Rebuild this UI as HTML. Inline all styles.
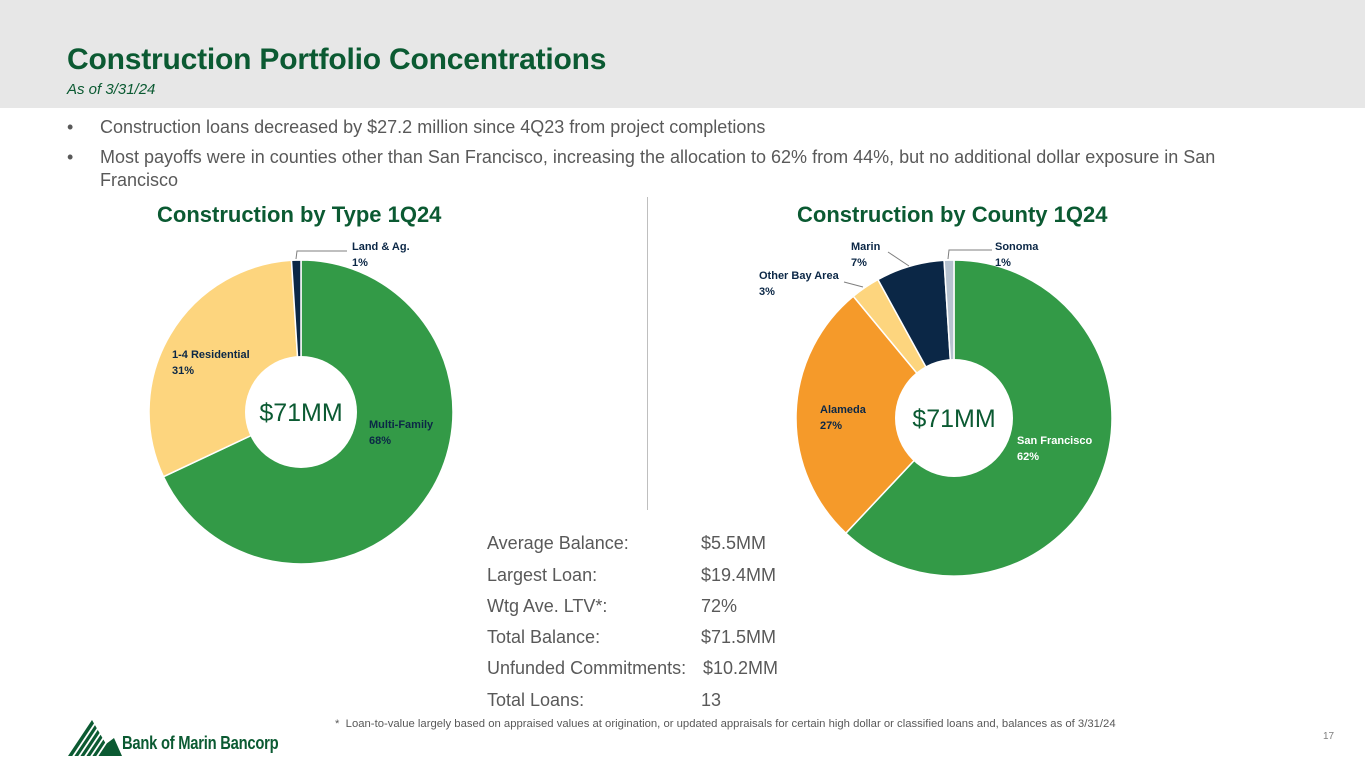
<!DOCTYPE html>
<html><head><meta charset="utf-8"><style>
body{margin:0;width:1365px;height:768px;position:relative;background:#fff;font-family:"Liberation Sans",sans-serif;overflow:hidden}
.hdr{position:absolute;left:0;top:0;width:1365px;height:108px;background:#e7e7e7}
.t{position:absolute;left:67px;top:43px;font-size:30px;font-weight:bold;color:#0b5a32;letter-spacing:-0.2px}
.st{position:absolute;left:67px;top:81px;font-size:15px;font-style:italic;color:#0b5a32}
.b{position:absolute;font-size:18px;color:#595959}
.ct{position:absolute;font-size:22px;font-weight:bold;color:#0b5a32}
.s{position:absolute;font-size:18px;color:#595959}
</style></head><body>
<div class="hdr"></div>
<div class="t">Construction Portfolio Concentrations</div>
<div class="st">As of 3/31/24</div>
<div class="b" style="left:67px;top:117px">•<span style="position:absolute;left:33px;white-space:nowrap">Construction loans decreased by $27.2 million since 4Q23 from project completions</span></div>
<div class="b" style="left:67px;top:146px;width:1200px;line-height:23px">•<span style="position:absolute;left:33px;white-space:nowrap">Most payoffs were in counties other than San Francisco, increasing the allocation to 62% from 44%, but no additional dollar exposure in San</span><br><span style="padding-left:33px">Francisco</span></div>
<div class="ct" style="left:157px;top:202px">Construction by Type 1Q24</div>
<div class="ct" style="left:797px;top:202px">Construction by County 1Q24</div>
<div style="position:absolute;left:647px;top:197px;width:1px;height:313px;background:#bfbfbf"></div>
<svg id="svg" width="1365" height="768" style="position:absolute;left:0;top:0"></svg>
<div class="s" style="left:487px;top:533px">Average Balance:</div><div class="s" style="left:701px;top:533px">$5.5MM</div>
<div class="s" style="left:487px;top:565px">Largest Loan:</div><div class="s" style="left:701px;top:565px">$19.4MM</div>
<div class="s" style="left:487px;top:596px">Wtg Ave. LTV*:</div><div class="s" style="left:701px;top:596px">72%</div>
<div class="s" style="left:487px;top:627px">Total Balance:</div><div class="s" style="left:701px;top:627px">$71.5MM</div>
<div class="s" style="left:487px;top:658px">Unfunded Commitments:</div><div class="s" style="left:703px;top:658px">$10.2MM</div>
<div class="s" style="left:487px;top:690px">Total Loans:</div><div class="s" style="left:701px;top:690px">13</div>
<div style="position:absolute;left:335px;top:718px;font-size:11.3px;color:#595959;white-space:nowrap">*&nbsp;&nbsp;Loan-to-value largely based on appraised values at origination, or updated appraisals for certain high dollar or classified loans and, balances as of 3/31/24</div>
<div style="position:absolute;left:1323px;top:731px;font-size:10px;color:#7f7f7f">17</div>
<svg style="position:absolute;left:66px;top:718px" width="56" height="40">
<polygon points="2,38 26,2 40,26 48,20 56,38" fill="#0b5a32"/>
<g stroke="#fff" stroke-width="1.8"><line x1="6" y1="40" x2="30" y2="4"/><line x1="12" y1="40" x2="34" y2="7"/><line x1="18" y1="40" x2="38" y2="10"/><line x1="24" y1="40" x2="42" y2="13"/><line x1="30" y1="40" x2="46" y2="16"/></g></svg>
<div style="position:absolute;left:122px;top:733px;font-size:18px;font-weight:bold;color:#0b5a32;transform:scaleX(0.82);transform-origin:left;letter-spacing:-0.3px;white-space:nowrap">Bank of Marin Bancorp</div>
<script>
const typeCats=["Multi-Family","1-4 Residential","Land & Ag."];
const typeVals=[68,31,1];
const typeColors=["#339a47","#fdd57e","#0b2746"];
const countyCats=["San Francisco","Alameda","Other Bay Area","Marin","Sonoma"];
const countyVals=[62,27,3,7,1];
const countyColors=["#339a47","#f59a2a","#fdd57e","#0b2746","#b7c3d0"];
const NS="http://www.w3.org/2000/svg";
const svg=document.getElementById('svg');
function pt(cx,cy,r,a){return [cx+r*Math.sin(a),cy-r*Math.cos(a)];}
function donut(name,cx,cy,R,r,vals,cols,cats){
  const tot=vals.reduce((a,b)=>a+b,0);let a0=0;
  vals.forEach((v,i)=>{
    const a1=a0+v/tot*2*Math.PI;
    const [x0,y0]=pt(cx,cy,R,a0),[x1,y1]=pt(cx,cy,R,a1);
    const lg=(a1-a0)>Math.PI?1:0;
    const p=document.createElementNS(NS,'path');
    p.setAttribute('d',`M${cx},${cy}L${x0},${y0}A${R},${R} 0 ${lg} 1 ${x1},${y1}Z`);
    p.setAttribute('fill',cols[i]);p.setAttribute('stroke','#fff');p.setAttribute('stroke-width','1.5');
    
    
    svg.appendChild(p);a0=a1;
  });
  const c=document.createElementNS(NS,'circle');
  c.setAttribute('cx',cx);c.setAttribute('cy',cy);c.setAttribute('r',r);c.setAttribute('fill','#fff');
  
  
  svg.appendChild(c);
  const t=document.createElementNS(NS,'text');
  t.setAttribute('x',cx);t.setAttribute('y',cy+9);t.setAttribute('text-anchor','middle');
  t.setAttribute('font-size','25');t.setAttribute('fill','#0b5a32');t.setAttribute('font-family','Liberation Sans');
  t.textContent='$71MM';
  
  
  svg.appendChild(t);
}
function label(name,x,y,l1,l2,col){
  [l1,l2].forEach((s,k)=>{const t=document.createElementNS(NS,'text');
  t.setAttribute('x',x);t.setAttribute('y',y+k*16);t.setAttribute('font-size','11');t.setAttribute('font-weight','bold');
  t.setAttribute('fill',col);t.setAttribute('font-family','Liberation Sans');t.textContent=s;
  
  
  svg.appendChild(t);});
}
function leader(pts){const p=document.createElementNS(NS,'polyline');p.setAttribute('points',pts);p.setAttribute('fill','none');p.setAttribute('stroke','#7f7f7f');p.setAttribute('stroke-width','1');
  
  
  svg.appendChild(p);}
donut('type',301,412,152,56,typeVals,typeColors,typeCats);
donut('county',954,418,158,59,countyVals,countyColors,countyCats);
label('label-multi-family',369,428,typeCats[0],typeVals[0]+'%','#0b2746');
label('label-residential',172,358,typeCats[1],typeVals[1]+'%','#0b2746');
label('label-land',352,250,typeCats[2],typeVals[2]+'%','#0b2746');
leader('296,259 297,251 347,251');
label('label-san-francisco',1017,444,countyCats[0],countyVals[0]+'%','#fff');
label('label-alameda',820,413,countyCats[1],countyVals[1]+'%','#0b2746');
label('label-other-bay',759,279,countyCats[2],countyVals[2]+'%','#0b2746');
label('label-marin',851,250,countyCats[3],countyVals[3]+'%','#0b2746');
label('label-sonoma',995,250,countyCats[4],countyVals[4]+'%','#0b2746');
leader('844,282 863,287');leader('888,252 909,266');leader('948,259 949,250 992,250');
</script>
</body></html>
